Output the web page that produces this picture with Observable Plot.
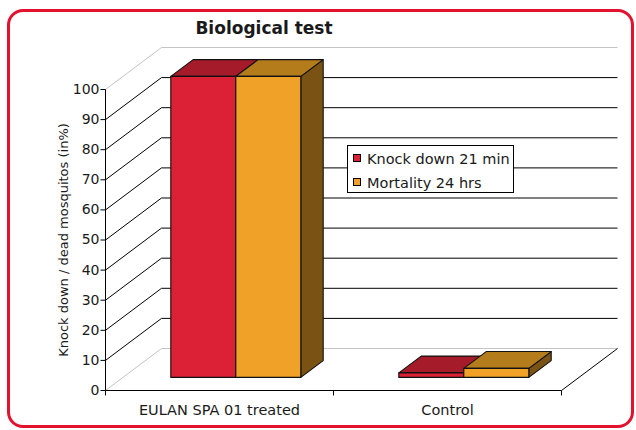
<!DOCTYPE html>
<html>
<head>
<meta charset="utf-8">
<script src="https://cdn.jsdelivr.net/npm/d3@7"></script>
<script src="https://cdn.jsdelivr.net/npm/@observablehq/plot@0.6"></script>
<style>
  html, body { margin: 0; padding: 0; background: #fff; }
  #wrap { position: relative; width: 636px; height: 430px; overflow: hidden; font-family: "DejaVu Sans", Verdana, sans-serif; color: #1a1a1a; }
  #wrap svg { position: absolute; left: 0; top: 0; }
  #frame { position: absolute; left: 7px; top: 9px; width: 627px; height: 419px; box-sizing: border-box; border: 3px solid #e3122e; border-radius: 16px; pointer-events: none; }
  #title { position: absolute; left: 264px; top: 20px; transform: translateX(-50%); font-weight: bold; font-size: 17px; line-height: 17px; white-space: nowrap; }
  #legend { position: absolute; left: 347px; top: 145px; width: 167px; height: 48px; box-sizing: border-box; border: 1px solid #000; background: #fff; }
  .sw { position: absolute; left: 5px; width: 8px; height: 8px; box-sizing: border-box; border: 1px solid #000; }
  .lt { position: absolute; left: 19px; font-size: 14.5px; line-height: 14.5px; white-space: nowrap; }
</style>
</head>
<body>
<div id="wrap">
  <div id="title"></div>
  <div id="frame"></div>
</div>
<script>
// ---- data ----
const categories = ["EULAN SPA 01 treated", "Control"];
const seriesNames = ["Knock down 21 min", "Mortality 24 hrs"];
const knockDown = [100, 1.5];
const mortality = [100, 3];
const yTicks = [0, 10, 20, 30, 40, 50, 60, 70, 80, 90, 100];
const frontColors = ["#dc2035", "#f0a228"];
const topColors = ["#a51b2a", "#b57c1c"];
const sideColors = ["#6e1219", "#7a5214"];
const titleText = "Biological test";
const yLabel = "Knock down / dead mosquitos (in%)";

// ---- layout ----
const W = 636, H = 430;
const mL = 105, mR = 75, mT = 89, mB = 40;
const nCat = categories.length;
const pxX = (W - mL - mR) / nCat;     // px per x unit
const pxY = (H - mT - mB) / 100;      // px per y unit
const wallDX = 56 / pxX, wallDY = 42 / pxY;   // depth of the 3D box, in data units
const barW = 65 / pxX;
const f0 = 0.3, fd = 0.4;             // bar front position and depth as fraction of wall depth
const tickX = 5 / pxX, tickY = 5 / pxY;

const values = [knockDown, mortality];
const polys = [];
categories.forEach((c, i) => {
  seriesNames.forEach((s, k) => {
    const v = values[k][i];
    const xa = i + 0.5 - barW + k * barW + f0 * wallDX;
    const xb = xa + barW;
    const y0 = f0 * wallDY;
    const ddx = fd * wallDX, ddy = fd * wallDY;
    const id = i + "-" + k;
    polys.push({id: id + "s", x: xb, y1: y0, y2: y0 + v, fill: sideColors[k]});
    polys.push({id: id + "s", x: xb + ddx, y1: y0 + ddy, y2: y0 + v + ddy, fill: sideColors[k]});
    polys.push({id: id + "t", x: xa, y1: y0 + v, y2: y0 + v, fill: topColors[k]});
    polys.push({id: id + "t", x: xa + ddx, y1: y0 + v, y2: y0 + v + ddy, fill: topColors[k]});
    polys.push({id: id + "t", x: xb, y1: y0 + v, y2: y0 + v + ddy, fill: topColors[k]});
    polys.push({id: id + "t", x: xb + ddx, y1: y0 + v + ddy, y2: y0 + v + ddy, fill: topColors[k]});
    polys.push({id: id + "f", x: xa, y1: y0, y2: y0 + v, fill: frontColors[k]});
    polys.push({id: id + "f", x: xb, y1: y0, y2: y0 + v, fill: frontColors[k]});
  });
});

const gray = "#c4c4c4", ink = "#000";
const edge = (d) => (d === 0 || d === 100 ? gray : ink);
const boundaries = d3.range(0, nCat + 1);

const chart = Plot.plot({
  width: W,
  height: H,
  marginLeft: mL,
  marginRight: mR,
  marginTop: mT,
  marginBottom: mB,
  style: {fontFamily: "DejaVu Sans, Verdana, sans-serif", fontSize: "14px", color: "#1a1a1a", background: "transparent", overflow: "visible"},
  x: {domain: [0, nCat], axis: null},
  y: {domain: [0, 100], axis: null},
  color: {type: "identity"},
  marks: [
    // back wall grid lines
    Plot.link(yTicks, {x1: wallDX, x2: nCat + wallDX, y1: (d) => d + wallDY, y2: (d) => d + wallDY, stroke: edge, strokeWidth: 1}),
    // left wall diagonals
    Plot.link(yTicks, {x1: 0, x2: wallDX, y1: (d) => d, y2: (d) => d + wallDY, stroke: edge, strokeWidth: 1}),
    // right floor diagonal
    Plot.link([nCat], {x1: (d) => d, x2: (d) => d + wallDX, y1: 0, y2: wallDY, stroke: ink, strokeWidth: 1}),
    // front floor line and y axis line
    Plot.link([0], {x1: 0, x2: nCat, y1: 0, y2: 0, stroke: ink}),
    Plot.link([0], {x1: 0, x2: 0, y1: 0, y2: 100, stroke: ink}),
    // 3D bars
    Plot.areaY(polys, {x: "x", y1: "y1", y2: "y2", z: "id", fill: "fill", stroke: "#111", strokeWidth: 1.1, strokeLinejoin: "round"}),
    // y axis ticks and labels
    Plot.link(yTicks, {x1: 0, x2: -tickX, y1: (d) => d, y2: (d) => d, stroke: ink}),
    Plot.text(yTicks, {x: 0, y: (d) => d, dx: -6, textAnchor: "end", text: (d) => String(d), fontSize: 14, fill: "#1a1a1a"}),
    // x axis ticks and labels
    Plot.link(boundaries, {x1: (d) => d, x2: (d) => d, y1: 0, y2: -tickY, stroke: ink}),
    Plot.text(categories, {x: (d, i) => i + 0.5, y: 0, dy: 14, lineAnchor: "top", text: (d) => d, fontSize: 14.5, fill: "#1a1a1a"}),
    // y axis title
    Plot.text([yLabel], {x: 0, y: 50, rotate: -90, dx: -42, textAnchor: "middle", lineAnchor: "middle", fontSize: 13, text: (d) => d, fill: "#1a1a1a"})
  ]
});

const wrap = document.getElementById("wrap");
wrap.insertBefore(chart, wrap.firstChild);
document.getElementById("title").textContent = titleText;

// legend
const legend = document.createElement("div");
legend.id = "legend";
seriesNames.forEach((s, k) => {
  const sw = document.createElement("div");
  sw.className = "sw";
  sw.style.top = (8 + 24 * k) + "px";
  sw.style.background = frontColors[k];
  const t = document.createElement("div");
  t.className = "lt";
  t.style.top = (6 + 24 * k) + "px";
  t.textContent = s;
  legend.appendChild(sw);
  legend.appendChild(t);
});
wrap.appendChild(legend);
</script>
</body>
</html>
